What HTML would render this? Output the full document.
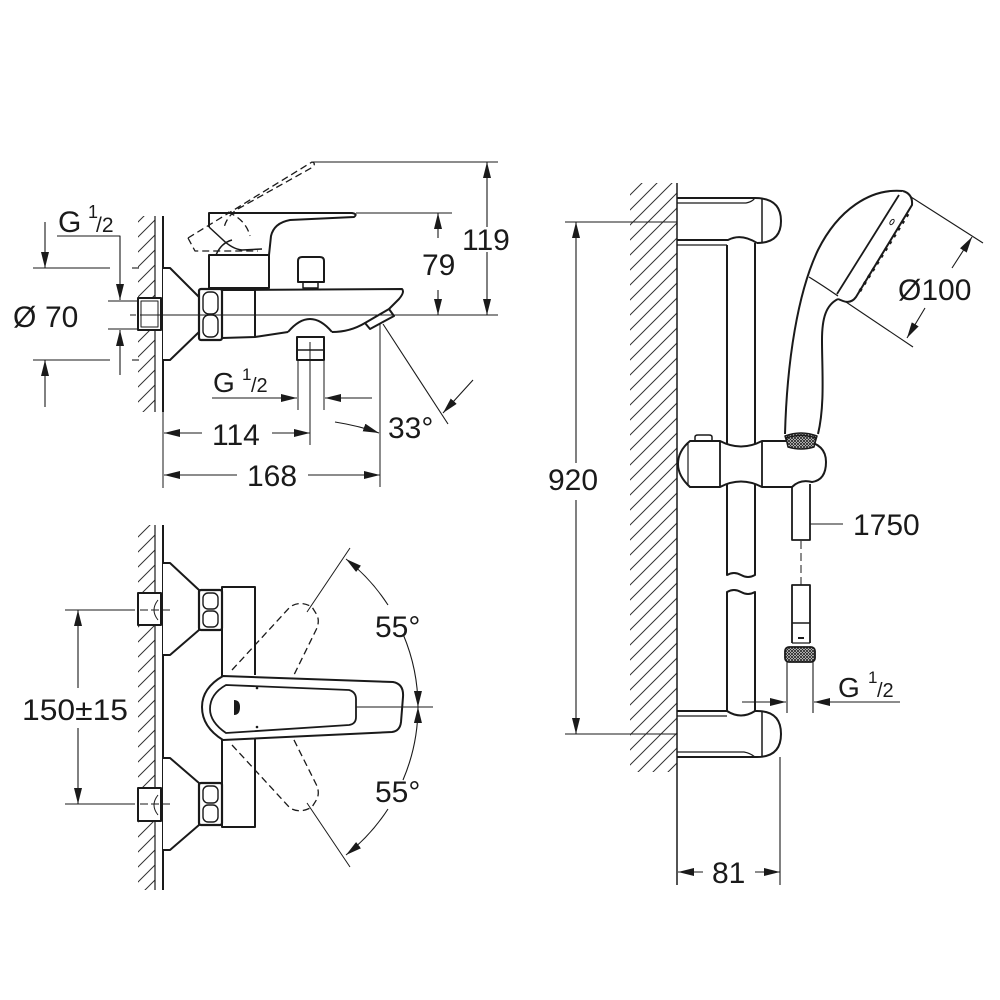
<!DOCTYPE html>
<html><head><meta charset="utf-8"><style>html,body{margin:0;padding:0;background:#fff}svg{display:block}text{fill:#1a1a1a;stroke:none;font-family:"Liberation Sans",Arial,sans-serif}</style></head>
<body>
<svg width="1000" height="1000" viewBox="0 0 1000 1000" xmlns="http://www.w3.org/2000/svg" fill="none" stroke="#1a1a1a" stroke-linejoin="round">
<defs>
<pattern id="h" patternUnits="userSpaceOnUse" width="15" height="15"><path d="M-2,17 L17,-2 M-2,2 L2,-2 M13,17 L17,13" stroke="#333" stroke-width="1"/></pattern>
<pattern id="k" patternUnits="userSpaceOnUse" width="3" height="3"><rect width="3" height="3" fill="#fff" stroke="none"/><path d="M0,0L3,3M3,0L0,3" stroke="#222" stroke-width="0.9"/></pattern>
<marker id="a" markerUnits="userSpaceOnUse" markerWidth="17" markerHeight="8" refX="16" refY="4" orient="auto-start-reverse"><path d="M0,0 L16,4 L0,8 Z" fill="#1a1a1a" stroke="none"/></marker>
</defs>

<!-- ============ TOP-LEFT VIEW ============ -->
<rect x="138" y="216" width="17" height="196" fill="url(#h)" stroke="none"/>
<line x1="155" y1="216" x2="155" y2="412" stroke-width="1.2"/>
<line x1="163" y1="216" x2="163" y2="412" stroke-width="2"/>
<line x1="163" y1="412" x2="163" y2="488" stroke-width="1"/>
<rect x="138" y="298" width="23" height="32" fill="#fff" stroke-width="2"/>
<rect x="141" y="301" width="17" height="26" stroke-width="1"/>
<path d="M163,268 L170,268 L199,297 L199,332 L170,360 L163,360" stroke-width="2" fill="#fff"/>
<rect x="199" y="289" width="23" height="51" rx="2" stroke-width="2.2" fill="#fff"/>
<rect x="203" y="292" width="15" height="22" rx="6" stroke-width="1.4"/>
<rect x="203" y="315" width="15" height="22" rx="6" stroke-width="1.4"/>
<!-- body -->
<path d="M222,290 L402,289 Q405,292 399,299 L389,309 M365,323 Q350,332 332,332 M288,332 L255,337 L222,338 L222,290 M255,290 L255,337" stroke-width="2"/>
<path d="M288,332 Q310,306 332,332" stroke-width="2" fill="#fff"/>
<path d="M389,309 L394,316 L370,329 L365,323 Z" stroke-width="2" fill="#fff"/>
<rect x="297" y="337" width="27" height="23" stroke-width="2" fill="#fff"/>
<line x1="297" y1="350" x2="324" y2="350" stroke-width="1.5"/>
<rect x="209" y="255" width="60" height="33" stroke-width="2"/>
<path d="M298,282 L298,261 Q298,257 302,257 L320,257 Q324,257 324,261 L324,282 Z" stroke-width="2"/>
<rect x="303" y="282" width="15" height="6" stroke-width="1.5"/>
<!-- lever -->
<path d="M209,227 L209,213 L352,213 Q358,214 354,217 L290,220 Q274,223 271,236 L269,255" stroke-width="2"/>
<path d="M209,227 L222,239 Q232,249 242,250 L262,249" stroke-width="1.5"/>
<path d="M216,255 Q221,243 232,240" stroke-width="1.5"/>
<g stroke-dasharray="7,4" stroke-width="1.3">
<path d="M188,238 L312,162 Q316,163 313,167 L236,210 Q226,218 224,228"/>
<path d="M188,238 L195,251 L258,251"/>
<path d="M228,212 Q246,220 250,236"/>
</g>
<!-- lines -->
<line x1="313" y1="162" x2="498" y2="162" stroke-width="1"/>
<line x1="356" y1="213" x2="452" y2="213" stroke-width="1"/>
<line x1="140" y1="315" x2="498" y2="315" stroke-width="1"/>
<line x1="130" y1="315" x2="136" y2="315" stroke-width="1"/>
<line x1="310" y1="342" x2="310" y2="445" stroke-width="1"/>
<line x1="380" y1="323" x2="380" y2="487" stroke-width="1"/>
<line x1="298" y1="360" x2="298" y2="410" stroke-width="1"/>
<line x1="324" y1="360" x2="324" y2="410" stroke-width="1"/>
<g stroke-width="1.1">
<path d="M487,227 L487,162" marker-end="url(#a)"/><path d="M487,252 L487,315" marker-end="url(#a)"/>
<path d="M438,238 L438,213" marker-end="url(#a)"/><path d="M438,290 L438,315" marker-end="url(#a)"/>
<path d="M57,236 L120,236 L120,300" marker-end="url(#a)"/><path d="M120,375 L120,330" marker-end="url(#a)"/>
<line x1="108" y1="301" x2="137" y2="301"/><line x1="108" y1="329" x2="137" y2="329"/>
<path d="M45,222 L45,268" marker-end="url(#a)"/><path d="M45,407 L45,360" marker-end="url(#a)"/>
<line x1="33" y1="268" x2="110" y2="268"/><line x1="33" y1="360" x2="110" y2="360"/>
<line x1="132" y1="268" x2="139" y2="268"/><line x1="132" y1="360" x2="139" y2="360"/>
<path d="M202,433 L164,433" marker-end="url(#a)"/><path d="M272,433 L310,433" marker-end="url(#a)"/>
<path d="M237,475 L164,475" marker-end="url(#a)"/><path d="M308,475 L380,475" marker-end="url(#a)"/>
<path d="M212,398 L297,398" marker-end="url(#a)"/><path d="M372,398 L325,398" marker-end="url(#a)"/>
<line x1="383" y1="324" x2="448" y2="424"/>
<path d="M473,380 L443,413" marker-end="url(#a)"/>
<path d="M335,422 Q360,426 379,433" marker-end="url(#a)"/>
</g>
<text x="462" y="250" font-size="30">119</text>
<text x="422" y="275" font-size="30">79</text>
<text x="58" y="232" font-size="30">G</text><text x="88" y="218" font-size="18">1</text><text x="96" y="232" font-size="21">/2</text>
<text x="13" y="327" font-size="30">Ø</text><text x="45" y="327" font-size="30">70</text>
<text x="212" y="445" font-size="30">114</text>
<text x="247" y="486" font-size="30">168</text>
<text x="213" y="392" font-size="28">G</text><text x="242" y="380" font-size="17">1</text><text x="251" y="392" font-size="20">/2</text>
<text x="388" y="438" font-size="30">33°</text>

<!-- ============ BOTTOM-LEFT VIEW ============ -->
<rect x="138" y="525" width="17" height="365" fill="url(#h)" stroke="none"/>
<line x1="155" y1="525" x2="155" y2="890" stroke-width="1.2"/>
<line x1="163" y1="525" x2="163" y2="890" stroke-width="2"/>
<path d="M163,563 L170,563 L199,590 L199,630 L170,655 L163,655" stroke-width="2" fill="#fff"/>
<path d="M163,758 L170,758 L199,783 L199,825 L170,850 L163,850" stroke-width="2" fill="#fff"/>
<rect x="138" y="593" width="23" height="32" fill="#fff" stroke-width="2"/>
<rect x="138" y="788" width="23" height="33" fill="#fff" stroke-width="2"/>
<path d="M158,600 Q150,610 158,620 M158,795 Q150,805 158,815" stroke-width="1"/>
<rect x="199" y="590" width="23" height="40" rx="2" stroke-width="2.2" fill="#fff"/>
<rect x="203" y="593" width="15" height="16" rx="5" stroke-width="1.4"/>
<rect x="203" y="611" width="15" height="16" rx="5" stroke-width="1.4"/>
<rect x="199" y="783" width="23" height="42" rx="2" stroke-width="2.2" fill="#fff"/>
<rect x="203" y="786" width="15" height="17" rx="5" stroke-width="1.4"/>
<rect x="203" y="805" width="15" height="17" rx="5" stroke-width="1.4"/>
<path d="M222,677 L222,587 L255,587 L255,675 M255,738 L255,827 L222,827 L222,740" stroke-width="2"/>
<g stroke-dasharray="7,4" stroke-width="1.3">
<path d="M232,670 L290,607 Q300,600 312,607 L317,615 Q320,622 316,630 L290,683"/>
<path d="M232,745 L290,808 Q300,814 312,807 L317,799 Q320,792 316,784 L290,732"/>
</g>
<path d="M223,740 Q202,727 202,707 Q202,688 223,676 L393,682 Q404,684 403,697 L401,722 Q400,731 392,732 Z" stroke-width="2" fill="#fff"/>
<path d="M226,685 L349,690 Q356,692 356,699 L356,717 Q356,724 349,725 L226,733 Q210,722 210,709 Q210,694 226,685 Z" stroke-width="1.8"/>
<circle cx="257" cy="688" r="1.3" fill="#1a1a1a" stroke="none"/>
<circle cx="257" cy="727" r="1.3" fill="#1a1a1a" stroke="none"/>
<path d="M234,700 L234,715 Q240,715 240,707 Q240,700 234,700 Z" fill="#1a1a1a" stroke="none"/>
<line x1="356" y1="707" x2="433" y2="707" stroke-width="1"/>
<line x1="307" y1="612" x2="350" y2="548" stroke-width="1"/>
<line x1="307" y1="803" x2="350" y2="867" stroke-width="1"/>
<g stroke-width="1.1">
<path d="M388,605 A188,188 0 0 0 346,559" marker-end="url(#a)"/>
<path d="M403,634 A188,188 0 0 1 418,707" marker-end="url(#a)"/>
<path d="M403,780 A188,188 0 0 0 418,707" marker-end="url(#a)"/>
<path d="M388,809 A188,188 0 0 1 346,855" marker-end="url(#a)"/>
<path d="M78,688 L78,610" marker-end="url(#a)"/><path d="M78,728 L78,804" marker-end="url(#a)"/>
<line x1="65" y1="610" x2="135" y2="610"/><line x1="65" y1="804" x2="135" y2="804"/>
<line x1="140" y1="610" x2="172" y2="610" stroke-dasharray="8,3"/><line x1="140" y1="804" x2="172" y2="804" stroke-dasharray="8,3"/>
</g>
<text x="375" y="637" font-size="30">55°</text>
<text x="375" y="802" font-size="30">55°</text>
<text x="22" y="720" font-size="30" textLength="106" lengthAdjust="spacingAndGlyphs">150±15</text>

<!-- ============ RIGHT VIEW ============ -->
<rect x="630" y="183" width="47" height="589" fill="url(#h)" stroke="none"/>
<line x1="677" y1="183" x2="677" y2="885" stroke-width="1.5"/>
<g stroke-width="1.1">
<path d="M576,463 L576,222" marker-end="url(#a)"/><path d="M576,500 L576,734" marker-end="url(#a)"/>
<line x1="565" y1="222" x2="677" y2="222"/><line x1="565" y1="734" x2="677" y2="734"/>
<path d="M703,872 L678,872" marker-end="url(#a)"/><path d="M755,872 L780,872" marker-end="url(#a)"/>
<line x1="780" y1="757" x2="780" y2="885"/>
<line x1="911" y1="197" x2="983" y2="243"/><line x1="846" y1="302" x2="913" y2="347"/>
<path d="M952,268 L972,237" marker-end="url(#a)"/><path d="M925,308 L907,338" marker-end="url(#a)"/>
<line x1="810" y1="524" x2="843" y2="524"/>
<path d="M742,702 L786,702" marker-end="url(#a)"/><path d="M900,702 L814,702" marker-end="url(#a)"/>
<line x1="787" y1="662" x2="787" y2="713"/><line x1="813" y1="662" x2="813" y2="713"/>
</g>
<text x="548" y="490" font-size="30">920</text>
<text x="712" y="883" font-size="30">81</text>
<text x="898" y="300" font-size="30">Ø100</text>
<text x="853" y="535" font-size="30">1750</text>
<text x="838" y="697" font-size="28">G</text><text x="868" y="683" font-size="17">1</text><text x="877" y="697" font-size="20">/2</text>

<!-- top bracket -->
<path d="M677,198 L755,198 Q781,198 781,221 Q781,243 757,243" stroke-width="2"/>
<line x1="762" y1="199" x2="762" y2="242" stroke-width="1.5"/>
<path d="M677,203 L746,203 Q752,202 755,198" stroke-width="1.2"/>
<path d="M677,240 L728,240 Q741,233 757,243" stroke-width="2"/>
<line x1="677" y1="245" x2="727" y2="245" stroke-width="1.2"/>
<!-- rail -->
<path d="M727,245 L727,575 Q734,571 741,575 Q748,579 755,575 L755,243" stroke-width="2"/>
<path d="M727,711 L727,592 Q734,588 741,592 Q748,596 755,592 L755,711" stroke-width="2"/>
<!-- lower bracket -->
<path d="M677,711 L727,711 Q741,720 755,711 L757,711 Q781,711 781,734 Q781,757 757,757 L677,757" stroke-width="2"/>
<line x1="762" y1="712" x2="762" y2="756" stroke-width="1.5"/>
<line x1="677" y1="716" x2="727" y2="716" stroke-width="1.2"/>
<path d="M677,752 L744,752 Q750,753 755,757" stroke-width="1.2"/>

<!-- hand shower -->
<path d="M903,191 C870,188 838,210 818,250 C798,292 787,360 785,434" stroke-width="2"/>
<path d="M838,299 C826,305 822,318 822,340 C822,370 825,405 818,434" stroke-width="2"/>
<path d="M809,277 Q822,285 838,296" stroke-width="1.3"/>
<path d="M903,191 Q913,194 912,205 L856,297 Q851,304 843,301 L838,299" stroke-width="2" fill="#fff"/>
<line x1="899" y1="195" x2="837" y2="294" stroke-width="1.8"/>
<line x1="908" y1="214" x2="858" y2="294" stroke-width="3" stroke-dasharray="3,5"/>
<ellipse cx="892" cy="222" rx="3" ry="1.6" transform="rotate(-55 892 222)" stroke-width="1"/>
<path d="M785,436 Q801,430 817,436 L814,446 Q801,450 788,446 Z" fill="url(#k)" stroke-width="1.5"/>

<!-- slider -->
<path d="M690,441 L720,441 Q741,452 762,441 L805,441 Q826,444 826,462 Q826,480 812,482 Q800,479 792,487 L762,487 Q741,476 720,487 L690,487 Q678,476 678,464 Q678,451 690,441 Z" stroke-width="2" fill="#fff"/>
<line x1="688" y1="442" x2="688" y2="486" stroke-width="1.2"/>
<line x1="720" y1="441" x2="720" y2="487" stroke-width="1.8"/>
<line x1="762" y1="441" x2="762" y2="487" stroke-width="1.8"/>
<path d="M695,442 L695,437 Q695,435 698,435 L709,435 Q712,435 712,437 L712,442" stroke-width="1.5"/>
<path d="M786,438 Q801,433 816,438 L814,447 Q801,451 788,447 Z" fill="url(#k)" stroke-width="1.5"/>

<!-- hose -->
<path d="M792,487 L792,540 L810,540 L810,484" stroke-width="1.8"/>
<line x1="801" y1="541" x2="801" y2="585" stroke-width="1" stroke-dasharray="8,4"/>
<path d="M792,643 L792,585 L810,585 L810,643" stroke-width="1.8"/>
<line x1="792" y1="623" x2="810" y2="623" stroke-width="1.5"/>
<line x1="792" y1="643" x2="810" y2="643" stroke-width="1.2"/>
<path d="M798,638 L804,638" stroke-width="2"/>
<rect x="785" y="647" width="30" height="15" rx="4" fill="url(#k)" stroke-width="1.8"/>
</svg>
</body></html>
